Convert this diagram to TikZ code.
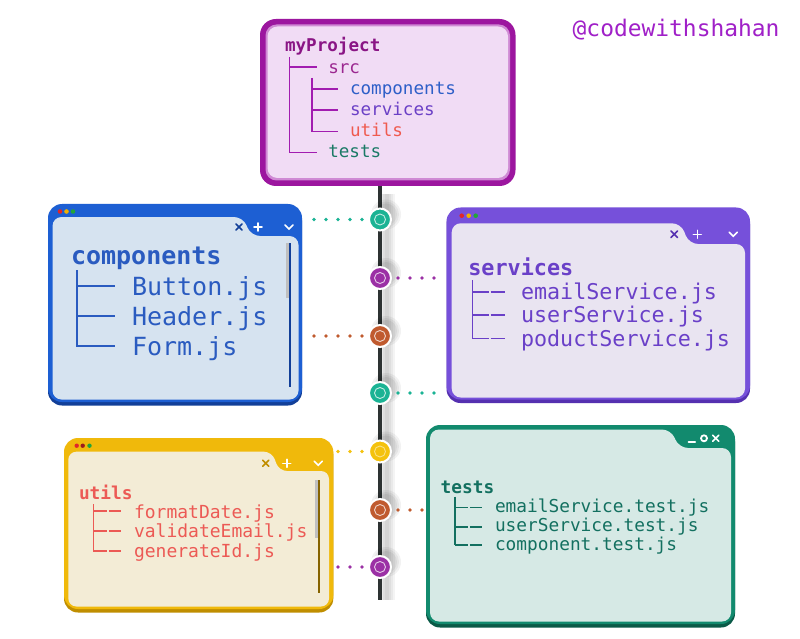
\documentclass[tikz,border=0pt]{standalone}
\usepackage{fontspec}
\newfontfamily\mono{DejaVu Sans Mono}
\usetikzlibrary{calc}
\newcommand\fsz[1]{\fontsize{#1pt}{#1pt}\selectfont}
\definecolor{projB}{HTML}{9C169F}
\definecolor{projRing}{HTML}{CF8AD4}
\definecolor{projFill}{HTML}{F1DCF5}
\definecolor{projText}{HTML}{8A1585}
\definecolor{projSrc}{HTML}{9B2790}
\definecolor{projLine}{HTML}{A21CB0}
\definecolor{cBlue}{HTML}{2E5FC8}
\definecolor{cViolet}{HTML}{6B40C6}
\definecolor{cRed}{HTML}{EF5A4F}
\definecolor{cTeal}{HTML}{1B7A66}
\definecolor{compB}{HTML}{1D5FD3}
\definecolor{compDark}{HTML}{123F98}
\definecolor{compFill}{HTML}{D6E3F0}
\definecolor{compText}{HTML}{2A5BC0}
\definecolor{servB}{HTML}{7650DA}
\definecolor{servDark}{HTML}{5530B0}
\definecolor{servFill}{HTML}{E9E4F1}
\definecolor{servText}{HTML}{6A40C8}
\definecolor{utilB}{HTML}{F0B90B}
\definecolor{utilDark}{HTML}{C08E00}
\definecolor{utilFill}{HTML}{F3ECD6}
\definecolor{utilText}{HTML}{EC5A55}
\definecolor{testB}{HTML}{128A6E}
\definecolor{testDark}{HTML}{0A5A47}
\definecolor{testFill}{HTML}{D6E9E5}
\definecolor{testText}{HTML}{137060}
\definecolor{hubTeal}{HTML}{1AB394}
\definecolor{hubPurple}{HTML}{9B30A5}
\definecolor{hubBrown}{HTML}{C05A2E}
\definecolor{hubYellow}{HTML}{F4C20D}
\definecolor{tlColor}{HTML}{2D3232}
\definecolor{handleC}{HTML}{A020C8}
\definecolor{dRed}{HTML}{E0262A}
\definecolor{dYellow}{HTML}{F0B000}
\definecolor{dGreen}{HTML}{22A43A}
\begin{document}
\begin{tikzpicture}[x=1pt,y=-1pt,
  txt/.style={anchor=base west, inner sep=0pt, outer sep=0pt},
  win/.style={anchor=north west, inner sep=0pt, outer sep=0pt, rounded corners=14pt},
  hub/.style={circle, draw=white, line width=2pt, minimum size=22pt, inner sep=0pt},
  dotline/.style={line width=3.8pt, line cap=round, dash pattern=on 0pt off 12pt, shorten <=6pt, shorten >=2pt},
  treeline/.style={line width=1.6pt},
  icon/.style={line width=1.6pt, line cap=round}
]
\useasboundingbox[fill=white] (0,0) rectangle (800,639);

% ---------- handle
\node[txt, font=\mono\fsz{22.9}, text=handleC] (handle) at (572.7,36.7) {@codewithshahan};

% ---------- timeline
\coordinate (tlTop) at (380,186);
\coordinate (tlBot) at (380,600);
\foreach \w in {16,12,8,4}{
  \draw[line width=\w pt, black, opacity=0.045] ($(tlTop)+(7,8)$) -- ($(tlBot)+(7,0)$);
}
\draw[line width=4.5pt, tlColor] (tlTop) -- (tlBot);

% ---------- top project box
\node[win, rounded corners=16pt, fill=projB, minimum width=255.5pt, minimum height=167pt] (proj) at (260,19) {};
\fill[projRing, rounded corners=11pt] (265.5,24.5) rectangle (510,180.5);
\fill[projFill, rounded corners=10pt] (267.5,26.5) rectangle (508,178);
\draw[treeline, projLine] (289.5,57) -- (289.5,152.5) -- (317,152.5);
\draw[treeline, projLine] (289.5,67) -- (317,67);
\draw[treeline, projLine] (311.7,78) -- (311.7,131.7) -- (338,131.7);
\draw[treeline, projLine] (311.7,89) -- (338,89);
\draw[treeline, projLine] (311.7,110) -- (338,110);
\node[txt, font=\mono\bfseries\fsz{17.6}, text=projText] (p0) at (285,52) {myProject};
\node[txt, font=\mono\fsz{17.6}, text=projSrc] (p1) at (328.3,73.5) {src};
\node[txt, font=\mono\fsz{17.6}, text=cBlue] (p2) at (350,95) {components};
\node[txt, font=\mono\fsz{17.6}, text=cViolet] (p3) at (350,116) {services};
\node[txt, font=\mono\fsz{17.6}, text=cRed] (p4) at (350,137) {utils};
\node[txt, font=\mono\fsz{17.6}, text=cTeal] (p5) at (328.3,158) {tests};

% ---------- components window
\node[win, fill=compDark, minimum width=254pt, minimum height=199pt] (compsh) at (48,206.5) {};
\node[win, fill=compB, minimum width=254pt, minimum height=198pt] (comp) at (48,204) {};
\fill[compFill, rounded corners=9pt] (52.5,300) -- (52.5,217) -- (243,217) -- (251,236) -- (298.5,236) -- (298.5,399.5) -- (52.5,399.5) -- cycle;
\fill[dRed] (60,211.5) circle (2.3pt);
\fill[dYellow] (66.5,211.5) circle (2.3pt);
\fill[dGreen] (73,211.5) circle (2.3pt);
\draw[icon, compDark] (236,224) -- (242,230) (236,230) -- (242,224);
\draw[icon, white] (254,227) -- (262,227) (258,223) -- (258,231);
\draw[icon, white] (285,225) -- (289,229) -- (293,225);
\fill[black!25] (286,243) rectangle (288.8,298);
\draw[line width=2.5pt, compDark] (290,243) -- (290,387);
\draw[treeline, compText, line width=1.8pt] (77.3,270) -- (77.3,345.7) -- (115,345.7);
\draw[treeline, compText, line width=1.8pt] (77.3,286) -- (115,286);
\draw[treeline, compText, line width=1.8pt] (77.3,316) -- (115,316);
\node[txt, font=\mono\bfseries\fsz{25}, text=compText] (ct) at (71,264) {components};
\node[txt, font=\mono\fsz{25}, text=compText] (c_a) at (132,295) {Button.js};
\node[txt, font=\mono\fsz{25}, text=compText] (c_b) at (132,325) {Header.js};
\node[txt, font=\mono\fsz{25}, text=compText] (c_c) at (132,355) {Form.js};

% ---------- services window
\node[win, fill=servDark, minimum width=303.5pt, minimum height=193pt] (servsh) at (446.5,210) {};
\node[win, fill=servB, minimum width=303.5pt, minimum height=192pt] (serv) at (446.5,207.5) {};
\fill[servFill, rounded corners=9pt] (451.7,300) -- (451.7,223.3) -- (681,223.3) -- (689,244) -- (745,244) -- (745,397.5) -- (451.7,397.5) -- cycle;
\fill[dRed] (461.7,215.7) circle (2.3pt);
\fill[dYellow] (468.7,215.7) circle (2.3pt);
\fill[dGreen] (475.7,215.7) circle (2.3pt);
\draw[icon, servDark] (671,231) -- (677.6,237.6) (671,237.6) -- (677.6,231);
\draw[icon, white] (693.3,234.3) -- (701.3,234.3) (697.3,230.3) -- (697.3,238.3);
\draw[icon, white] (729.3,232.3) -- (733.3,236.3) -- (737.3,232.3);
\draw[treeline, servText] (472.3,280) -- (472.3,338.3);
\foreach \yy in {291.7,315,338.3}{
  \draw[treeline, servText] (472.3,\yy) -- (488.5,\yy) (490.5,\yy) -- (505,\yy);
}
\node[txt, font=\mono\bfseries\fsz{21.8}, text=servText] (st) at (468.3,275) {services};
\node[txt, font=\mono\fsz{21.7}, text=servText] (s_a) at (521,299) {emailService.js};
\node[txt, font=\mono\fsz{21.7}, text=servText] (s_b) at (521,322.5) {userService.js};
\node[txt, font=\mono\fsz{21.7}, text=servText] (s_c) at (521,346) {poductService.js};

% ---------- utils window
\node[win, fill=utilDark, minimum width=269.3pt, minimum height=172pt] (utilsh) at (64,440.5) {};
\node[win, fill=utilB, minimum width=269.3pt, minimum height=171pt] (util) at (64,438) {};
\fill[utilFill, rounded corners=8pt] (68.3,520) -- (68.3,451.7) -- (272,451.7) -- (279,471) -- (329,471) -- (329,606.5) -- (68.3,606.5) -- cycle;
\fill[dRed] (76.7,445.7) circle (2.2pt);
\fill[dRed!70!black] (82.7,445.7) circle (2.2pt);
\fill[dGreen] (89.5,445.7) circle (2.2pt);
\draw[icon, utilDark] (262.7,460.3) -- (268.7,466.3) (262.7,466.3) -- (268.7,460.3);
\draw[icon, white] (282.7,463.3) -- (290.7,463.3) (286.7,459.3) -- (286.7,467.3);
\draw[icon, white] (314.3,461.3) -- (318.3,465.3) -- (322.3,461.3);
\fill[black!25] (315.3,480) rectangle (317.8,538);
\draw[line width=2.3pt, utilDark!70!black] (319,480) -- (319,593);
\draw[treeline, utilText] (93.3,504) -- (93.3,551);
\foreach \yy in {511,531,551}{
  \draw[treeline, utilText] (93.3,\yy) -- (107,\yy) (108.7,\yy) -- (120.7,\yy);
}
\node[txt, font=\mono\bfseries\fsz{17.8}, text=utilText] (ut) at (79,499) {utils};
\node[txt, font=\mono\fsz{18}, text=utilText] (u_a) at (134,518.3) {formatDate.js};
\node[txt, font=\mono\fsz{18}, text=utilText] (u_b) at (134,537.8) {validateEmail.js};
\node[txt, font=\mono\fsz{18}, text=utilText] (u_c) at (134,557.3) {generateId.js};

% ---------- tests window
\node[win, fill=testDark, minimum width=309pt, minimum height=200pt] (testsh) at (426,427.5) {};
\node[win, fill=testB, minimum width=309pt, minimum height=199pt] (tests) at (426,425) {};
\fill[testFill, rounded corners=9pt] (430,520) -- (430,429.5) -- (671,429.5) -- (679,448) -- (731,448) -- (731,621.5) -- (430,621.5) -- cycle;
\draw[icon, white, line width=2pt] (688.5,441.5) -- (695,441.5);
\draw[white, line width=1.8pt] (704,438.3) circle (3pt);
\draw[icon, white] (712.7,435.3) -- (718.7,441.3) (712.7,441.3) -- (718.7,435.3);
\draw[treeline, testText] (455,496.7) -- (455,545);
\foreach \yy in {507.3,526.7,545}{
  \draw[treeline, testText] (455,\yy) -- (468,\yy) (469.8,\yy) -- (481.7,\yy);
}
\node[txt, font=\mono\bfseries\fsz{17.8}, text=testText] (tt) at (440.7,493.3) {tests};
\node[txt, font=\mono\fsz{17.8}, text=testText] (t_a) at (495,512.7) {emailService.test.js};
\node[txt, font=\mono\fsz{17.8}, text=testText] (t_b) at (495,531.7) {userService.test.js};
\node[txt, font=\mono\fsz{17.8}, text=testText] (t_c) at (495,550.7) {component.test.js};

% ---------- hubs
\foreach \yy in {219.5,278,336,393,451.5,510,567}{
  \foreach \r in {15,13,11}{
    \fill[black, opacity=0.05] (386,\yy-5) circle (\r pt);
  }
}
\node[hub, fill=hubTeal]   (c1) at (380,219.5) {};
\node[hub, fill=hubPurple] (c2) at (380,278) {};
\node[hub, fill=hubBrown]  (c3) at (380,336) {};
\node[hub, fill=hubTeal]   (c4) at (380,393) {};
\node[hub, fill=hubYellow] (c5) at (380,451.5) {};
\node[hub, fill=hubBrown]  (c6) at (380,510) {};
\node[hub, fill=hubPurple] (c7) at (380,567) {};
\foreach \n in {c1,c2,c3,c4,c6,c7}{
  \draw[white, opacity=0.75, line width=0.9pt] (\n.center) circle (5.5pt);
}
\draw[white, opacity=0.5, line width=0.9pt] (c5.center) circle (5.5pt);

% ---------- connectors
\draw[dotline, hubTeal]   (c1.west) -- (comp.east |- c1);
\draw[dotline, hubPurple] (c2.east) -- (serv.west |- c2);
\draw[dotline, hubBrown]  (c3.west) -- (comp.east |- c3);
\draw[dotline, hubTeal]   (c4.east) -- (serv.west |- c4);
\draw[dotline, hubYellow] (c5.west) -- (util.east |- c5);
\draw[dotline, hubBrown]  (c6.east) -- (tests.west |- c6);
\draw[dotline, hubPurple] (c7.west) -- (util.east |- c7);
\end{tikzpicture}
\end{document}
